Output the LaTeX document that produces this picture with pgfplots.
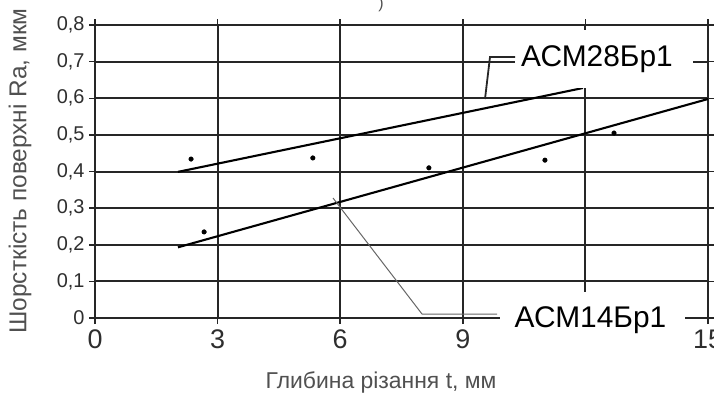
\documentclass[border=0pt]{standalone}
\usepackage{fontspec}
\setmainfont{Liberation Sans}
\usepackage{pgfplots}
\pgfplotsset{compat=1.18}
\definecolor{gridc}{HTML}{262626}
\definecolor{txt}{HTML}{2E2E2E}
\definecolor{lab}{HTML}{505050}
\begin{document}
\begin{tikzpicture}[x=1bp,y=1bp]
\useasboundingbox (-95,-76) rectangle (619,318);
\begin{axis}[
  at={(0,0)}, anchor=south west,
  scale only axis, width=613bp, height=293bp,
  xmin=0, xmax=15, ymin=0, ymax=0.8,
  xtick={0,3,6,9,12,15},
  xticklabels={0,3,6,9,{},15},
  ytick={0,0.1,0.2,0.3,0.4,0.5,0.6,0.7,0.8},
  grid=major,
  major grid style={gridc, line width=2bp},
  axis line style={gridc, line width=2bp},
  tick style={gridc, line width=1.5bp},
  tick align=outside, major tick length=6bp,
  /pgf/number format/.cd, use comma, fixed, precision=1, assume math mode=true,
  /pgfplots/.cd,
  yticklabel style={font=\fontsize{20}{23}\selectfont, text=txt, xshift=-1bp},
  xticklabel style={font=\fontsize{27}{31}\selectfont, text=txt, yshift=-2bp},
  clip=false,
]
% ACM28Bp1
\addplot[black, line width=2.1bp] coordinates {(2.03,0.399) (11.94,0.628)};
% ACM14Bp1
\addplot[black, line width=2.1bp] coordinates {(2.03,0.193) (15,0.598)};
% measured points
\addplot[only marks, mark=*, mark size=2.3bp, black] coordinates {
  (2.67,0.235) (2.35,0.434) (5.33,0.437) (8.17,0.410) (11.01,0.431) (12.70,0.505)};
\end{axis}
% label boxes
\fill[white] (420,230) rectangle (598,288);
\fill[white] (405,-32) rectangle (590,26);
% leaders
\draw[gridc, line width=1.8bp] (390,219) -- (395,261) -- (420,261);
\draw[gray!80!black, line width=1bp] (238,120) -- (327,4) -- (402,4);
% texts
\node[text=black, font=\fontsize{30}{34}\selectfont, inner sep=0pt] at (502,259) {АСМ28Бр1};
\node[text=black, font=\fontsize{30}{34}\selectfont, inner sep=0pt] at (495.5,-2) {АСМ14Бр1};
\node[text=lab, font=\fontsize{23}{27}\selectfont] at (286,-64) {Глибина різання t, мм};
\node[text=lab, font=\fontsize{24.5}{28}\selectfont, rotate=90] at (-75,147) {Шорсткість поверхні Ra, мкм};
\node[text=lab, font=\fontsize{16}{18}\selectfont] at (286,314) {)};
\end{tikzpicture}
\end{document}
